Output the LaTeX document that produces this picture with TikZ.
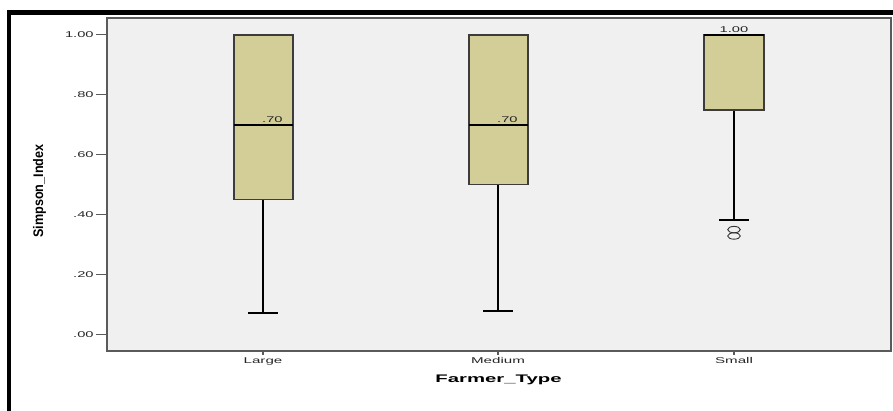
\documentclass[tikz,border=0pt]{standalone}
\usepackage{fontspec}
\setmainfont{Liberation Sans}
\definecolor{boxfill}{HTML}{D3CE98}
\definecolor{plotbg}{HTML}{F0F0F0}
\definecolor{axisgray}{HTML}{5A5A5A}
\definecolor{boxedge}{HTML}{3C3C3C}
\begin{document}
\begin{tikzpicture}[x=1pt,y=-1pt,
  ticklab/.style={inner sep=0pt,font=\fontsize{8.4}{10}\selectfont,xscale=1.75,text=black!85},
  catlab/.style={inner sep=0pt,font=\fontsize{8.4}{10}\selectfont,xscale=1.8,anchor=base,text=black!85},
  medlab/.style={inner sep=0pt,font=\fontsize{8.4}{10}\selectfont,xscale=1.75,anchor=south east,text=black!85},
  boxbody/.style={fill=boxfill,draw=boxedge,line width=1.3pt},
  whisk/.style={draw=black,line width=2pt},
  medline/.style={draw=black,line width=2pt},
  outl/.style={draw=black!80,line width=0.9pt}]
\useasboundingbox (0,0) rectangle (893,411);
% outer frame (top and left bands)
\fill[black] (7,10) rectangle (893,15);
\fill[black] (7,10) rectangle (11,411);
% plot area
\draw[fill=plotbg,draw=axisgray,line width=1.5pt] (107,18) rectangle (891,351);
% y ticks and labels
\foreach \v/\t/\y in {100/1.00/35,80/.80/95,60/.60/155,40/.40/214.5,20/.20/274.5,0/.00/334.5}{
  \draw[axisgray,line width=1pt] (96,\y) -- (107,\y);
  \node[ticklab,anchor=east] (ytick\v) at (94,\y) {\t};
}
% x ticks
\foreach \n/\x in {large/263,medium/498,small/734}{
  \draw[axisgray,line width=1.2pt] (\x,351) -- (\x,355);
}
% Large
\coordinate (Lwlo) at (263,313);
\draw[whisk] (263,199.7) -- (Lwlo);
\draw[whisk] (248,313) -- (278,313);
\draw[boxbody] (234,35) rectangle (293,199.7);
\draw[medline] (234,124.85) -- (293,124.85);
\node[medlab] (Lmed) at (283,123) {.70};
% Medium
\coordinate (Mwlo) at (498,310.5);
\draw[whisk] (498,184.75) -- (Mwlo);
\draw[whisk] (483,310.5) -- (513,310.5);
\draw[boxbody] (469,35) rectangle (528,184.75);
\draw[medline] (469,124.85) -- (528,124.85);
\node[medlab] (Mmed) at (518,123) {.70};
% Small
\coordinate (Swlo) at (734,220.5);
\draw[whisk] (734,109.9) -- (Swlo);
\draw[whisk] (719,220.5) -- (749,220.5);
\draw[boxbody] (704,35) rectangle (764,109.9);
\draw[medline] (704,35) -- (764,35);
\node[inner sep=0pt,font=\fontsize{8.4}{10}\selectfont,xscale=1.75,anchor=south,text=black!85] (Smed) at (734,32.5) {1.00};
\draw[outl] (734,229.6) ellipse [x radius=6.3pt,y radius=3.2pt];
\draw[outl] (734,236.0) ellipse [x radius=6.3pt,y radius=3.2pt];
% category labels
\node[catlab] (catL) at (263,363.3) {Large};
\node[catlab] (catM) at (498,363.3) {Medium};
\node[catlab] (catS) at (734,363.3) {Small};
% axis titles
\node[inner sep=0pt,font=\bfseries\fontsize{11}{13}\selectfont,xscale=1.85,anchor=base] (xtitle) at (498.5,382.3) {Farmer\_Type};
\node[inner sep=0pt,font=\bfseries\fontsize{12.6}{14}\selectfont,rotate=90,yscale=1.1,anchor=base] (ytitle) at (43,191) {Simpson\_Index};
\end{tikzpicture}
\end{document}
